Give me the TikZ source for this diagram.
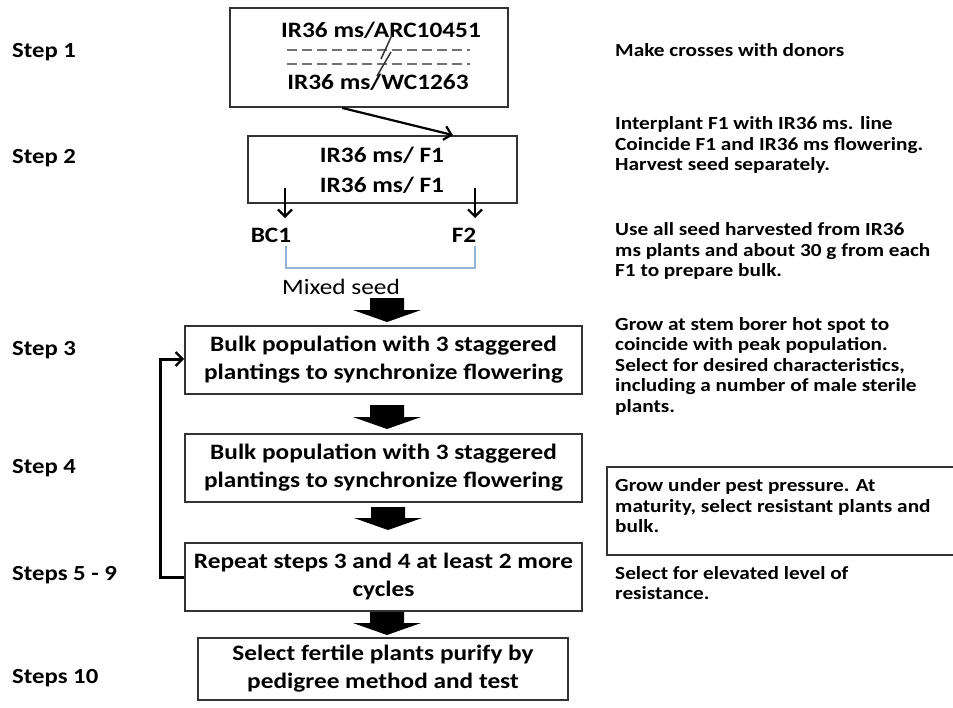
\documentclass[tikz,border=0pt]{standalone}
\usepackage{fontspec}
\setmainfont{Carlito}[FakeStretch=1.15]
\usetikzlibrary{arrows.meta,calc}
\definecolor{bracketblue}{HTML}{95B3D7}
\definecolor{boxline}{HTML}{333333}
\newcommand\boxfont{\fontsize{22}{28}\selectfont\bfseries}
\newcommand\blockarr[3]{%
  \fill[black] (#1-17,#2) -- (#1+17,#2) -- (#1+17,#3-12) -- (#1+34,#3-12) -- (#1,#3) -- (#1-34,#3-12) -- (#1-17,#3-12) -- cycle;}
\begin{document}
\begin{tikzpicture}[x=1pt,y=-1pt,
  box/.style={draw=boxline, line width=1.8pt, inner sep=0pt, align=center, font=\boxfont},
  btext/.style={inner sep=0pt, align=center, font=\boxfont},
  rtext/.style={anchor=west, align=left, inner sep=0pt, font=\fontsize{18.5}{20.5}\selectfont\bfseries},
  slabel/.style={anchor=west, inner sep=0pt, font=\fontsize{21.5}{24}\selectfont\bfseries},
  thinarrow/.style={line width=2.2pt, -{Straight Barb[length=7pt,width=14pt,line width=2.2pt]}},
  dashline/.style={draw=black!55, line width=2.4pt, dash pattern=on 10pt off 5pt}
]
\useasboundingbox (0,0) rectangle (953,707);

% left step labels
\node[slabel] (s1) at (12,52) {Step 1};
\node[slabel] (s2) at (12,158) {Step 2};
\node[slabel] (s3) at (12,350) {Step 3};
\node[slabel] (s4) at (12,468) {Step 4};
\node[slabel] (s5) at (12,575) {Steps 5 - 9};
\node[slabel] (s10) at (12,678) {Steps 10};

% box 1
\node[box, minimum width=278pt, minimum height=99pt] (box1) at (369,57.5) {};
\node[btext] (c1) at (381,30) {IR36 ms/ARC10451};
\node[btext] (c2) at (378,82) {IR36 ms/WC1263};
\coordinate (d1a) at (287,50); \coordinate (d1b) at (470,50);
\coordinate (d2a) at (287,64); \coordinate (d2b) at (470,64);
\draw[dashline] (d1a) -- (d1b);
\draw[dashline] (d2a) -- (d2b);
\coordinate (sl1a) at (392,35); \coordinate (sl1b) at (381,59);
\coordinate (sl2a) at (391,52); \coordinate (sl2b) at (377,76);
\draw[line width=1.5pt, black!80] (sl1a) -- (sl1b);
\draw[line width=1.5pt, black!80] (sl2a) -- (sl2b);

% box 2
\node[box, minimum width=269pt, minimum height=67pt] (box2) at (382.5,169.5) {};
\node[btext] (f1a) at (382,155) {IR36 ms/ F1};
\node[btext] (f1b) at (382,185) {IR36 ms/ F1};
\coordinate (a1s) at ($(box1.south west)+(113,0)$);
\coordinate (a1e) at ($(box2.north east)+(-65,0)$);
\draw[thinarrow] (a1s) -- (a1e);

% BC1 / F2
\node[btext] (bc1) at (271,235) {BC1};
\node[btext] (f2) at (464,235) {F2};
\coordinate (bcs) at (285,188); \coordinate (bce) at (285,218);
\coordinate (f2s) at (475,188); \coordinate (f2e) at (475,218);
\draw[thinarrow] (bcs) -- (bce);
\draw[thinarrow] (f2s) -- (f2e);
\coordinate (brl) at (286,246); \coordinate (brr) at (475,246);
\draw[bracketblue, line width=1.8pt] (brl) -- (286,268) -- (475,268) -- (brr);
\node[inner sep=0pt, font=\fontsize{22}{26}\selectfont] (mixed) at (341,287) {Mixed seed};

% main boxes
\node[box, minimum width=397pt, minimum height=68pt] (box3) at (383.5,360) {Bulk population with 3 staggered\\plantings to synchronize flowering};
\node[box, minimum width=397pt, minimum height=68pt] (box4) at (383.5,468) {Bulk population with 3 staggered\\plantings to synchronize flowering};
\node[box, minimum width=397pt, minimum height=68pt] (box5) at (383.5,577) {Repeat steps 3 and 4 at least 2 more\\cycles};
\node[box, minimum width=370pt, minimum height=62pt] (box6) at (383,669) {Select fertile plants purify by\\pedigree method and test};

% block arrows
\blockarr{387}{298}{322}
\blockarr{387}{405}{429}
\blockarr{388}{507}{530}
\blockarr{387}{612}{635}

% loop back
\coordinate (lp1) at (160,577);
\coordinate (lp2) at (160,359);
\draw[thinarrow, line width=3pt] (box5.west) -- (lp1) -- (lp2) -- (box3.west |- lp2);

% right column
\node[rtext] (r1) at (615,50) {Make crosses with donors};
\node[rtext] (r2) at (615,145) {Interplant F1 with IR36 ms. line\\Coincide F1 and IR36 ms flowering.\\Harvest seed separately.};
\node[rtext] (r3) at (615,251) {Use all seed harvested from IR36\\ms plants and about 30 g from each\\F1 to prepare bulk.};
\node[rtext] (r4) at (615,366) {Grow at stem borer hot spot to\\coincide with peak population.\\Select for desired characteristics,\\including a number of male sterile\\plants.};
\node[draw=boxline, line width=1.8pt, minimum width=370pt, minimum height=88pt, inner sep=0pt] (rbox) at (792,511) {};
\node[rtext] (r5) at (615,506) {Grow under pest pressure. At\\maturity, select resistant plants and\\bulk.};
\node[rtext] (r6) at (615,583) {Select for elevated level of\\resistance.};
\end{tikzpicture}
\end{document}
